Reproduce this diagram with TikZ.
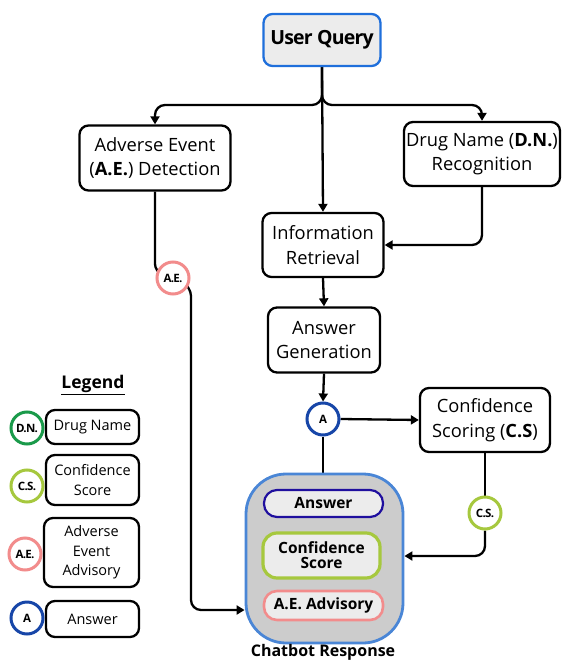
\documentclass[tikz,border=0pt]{standalone}
\usepackage{fontspec}
\setmainfont{Open Sans}
\usetikzlibrary{arrows.meta}
\definecolor{queryblue}{HTML}{1F6FDB}
\definecolor{respblue}{HTML}{4A86D6}
\definecolor{ansblue}{HTML}{1746A8}
\definecolor{navy}{HTML}{1F0F9E}
\definecolor{dngreen}{HTML}{1A9A4A}
\definecolor{csgreen}{HTML}{A6C83E}
\definecolor{aepink}{HTML}{F28C8C}
\definecolor{pillgray}{HTML}{ECECEC}
\definecolor{respgray}{HTML}{CCCCCC}
\pgfdeclarelayer{links}
\pgfsetlayers{links,main}

\begin{document}
\begin{tikzpicture}[x=1pt,y=-1pt]
\tikzstyle{procbox}=[draw,rounded corners=9pt,line width=2.3pt,align=center,inner sep=0pt,font=\fontsize{18.3}{24.5}\selectfont]
\tikzstyle{legbox}=[draw,rounded corners=9pt,line width=2.3pt,align=center,inner sep=0pt,minimum width=93pt,font=\fontsize{14.5}{19.5}\selectfont]
\tikzstyle{tag}=[circle,draw,line width=3pt,fill=white,minimum size=32pt,inner sep=0pt,font=\bfseries\fontsize{11.5}{12}\selectfont\addfontfeature{LetterSpace=-6}]
\tikzstyle{pill}=[draw,fill=pillgray,rounded corners=13pt,align=center,inner sep=0pt,minimum width=119pt,font=\bfseries\fontsize{15.5}{16}\selectfont]
\tikzstyle{arr}=[line width=2.3pt,-{Triangle[length=8pt,width=9pt]}]
\tikzstyle{link}=[line width=2.3pt]
\useasboundingbox (0,0) rectangle (566,660);

% main flow
\node[procbox,draw=queryblue,fill=pillgray,minimum width=117pt,minimum height=52pt,font=\bfseries\fontsize{19.5}{20}\selectfont] (query) at (322,40) {\addfontfeature{LetterSpace=-4}User Query};
\node[procbox,minimum width=151pt,minimum height=65pt] (aedet) at (155,158) {Adverse Event\\(\textbf{A.E.}) Detection};
\node[procbox,minimum width=156pt,minimum height=64pt] (dnrec) at (482,154) {Drug Name (\textbf{D.N.})\\Recognition};
\node[procbox,minimum width=121pt,minimum height=64pt] (retr) at (323,245) {Information\\Retrieval};
\node[procbox,minimum width=112pt,minimum height=65pt] (gen) at (324,340) {Answer\\Generation};
\node[procbox,minimum width=130pt,minimum height=64pt] (score) at (485,420) {Confidence\\Scoring (\textbf{C.S})};

% tags on the links
\node[tag,draw=aepink] (aetag) at (173,278) {A.E.};
\node[tag,draw=ansblue] (atag) at (323,419) {A};
\node[tag,draw=csgreen] (cstag) at (485,513) {C.S.};

% chatbot response
\node[draw=respblue,fill=respgray,line width=2.8pt,rounded corners=40pt,minimum width=157pt,minimum height=169pt,inner sep=0pt] (resp) at (324.5,558.5) {};
\node[font=\bfseries\fontsize{16}{17}\selectfont] (resplabel) at (323,652) {Chatbot Response};
\node[pill,draw=navy,line width=2.2pt,minimum height=27pt] (ansp) at (323.5,503.5) {Answer};
\node[pill,draw=csgreen,line width=3.2pt,minimum width=117pt,minimum height=45pt,rounded corners=14pt,font=\bfseries\fontsize{15.5}{15}\selectfont] (confp) at (321.5,555.5) {Confidence\\Score};
\node[pill,draw=aepink,line width=2.6pt,minimum height=29pt] (advp) at (323.5,605.5) {A.E. Advisory};

% connectors
\begin{pgfonlayer}{links}
\coordinate (split) at (322,105);
\draw[arr,rounded corners=10pt] (query.south) -- (split) -- (split -| aedet.north) -- (aedet.north);
\draw[arr,rounded corners=10pt] (query.south) -- (split) -- (split -| dnrec.north) -- (dnrec.north);
\draw[arr] (query.south) -- (retr.north);
\draw[arr,rounded corners=10pt] (dnrec.south) |- (retr.east);
\draw[arr] (retr.south) -- (gen.north);
\draw[arr] (gen.south) -- (atag.north);
\draw[arr] (atag.east) -- (score.west);
\draw[link] (atag.south) -- (atag.south |- resp.north);
\coordinate (aein) at (155,272);
\draw[link,rounded corners=8pt] (aedet.south) -- (aein) -- (aetag.center);
\coordinate (aeout) at (191,286);
\coordinate (aebend) at (191,610);
\draw[arr,rounded corners=10pt] (aetag.center) -- (aeout) -- (aebend) -- (resp.west |- aebend);
\coordinate (csbend) at (485,556);
\draw[link] (score.south) -- (cstag.north);
\draw[arr,rounded corners=10pt] (cstag.south) -- (csbend) -- (resp.east |- csbend);
\end{pgfonlayer}

% legend
\node[font=\bfseries\fontsize{17.5}{18}\selectfont] (legend) at (93,385) {\underline{Legend}};
\node[tag,draw=dngreen] (legdn) at (27,428) {D.N.};
\node[legbox,minimum height=34pt] (legdnbox) at (92.5,427) {Drug Name};
\node[tag,draw=csgreen] (legcs) at (27,486) {C.S.};
\node[legbox,minimum height=50pt] (legcsbox) at (92.5,480) {Confidence\\Score};
\node[tag,draw=aepink] (legae) at (25,554) {A.E.};
\node[legbox,minimum width=95pt,minimum height=69pt] (legaebox) at (91.5,552.5) {Adverse\\Event\\Advisory};
\node[tag,draw=ansblue] (lega) at (27,618) {A};
\node[legbox,minimum height=36pt] (legabox) at (92.5,619) {Answer};
\end{tikzpicture}
\end{document}
